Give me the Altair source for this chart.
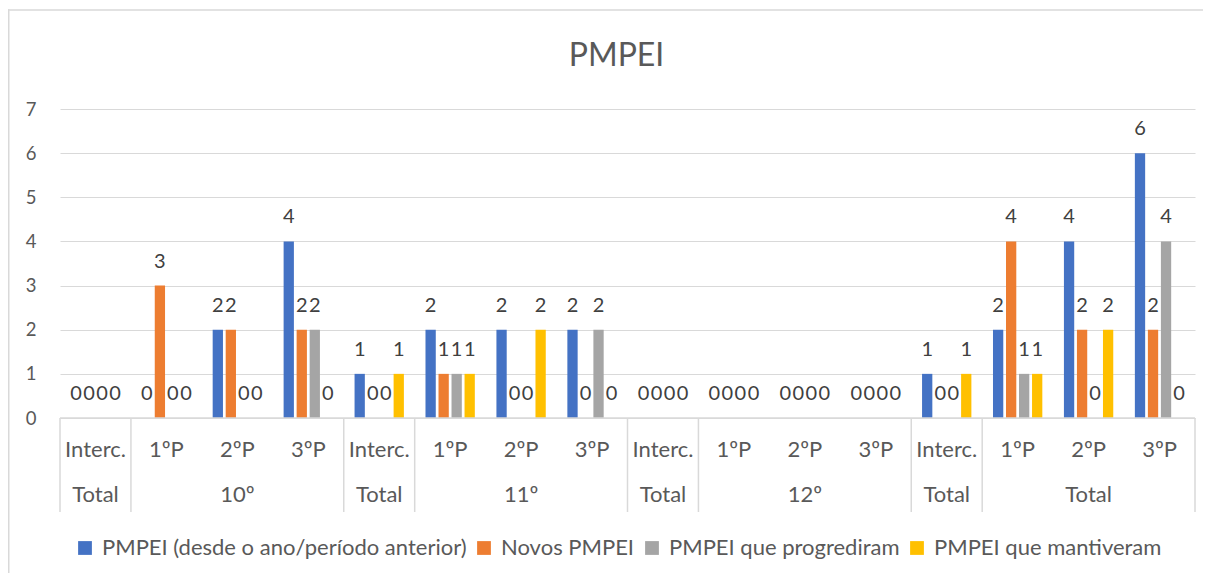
import altair as alt
import pandas as pd

# ---------------- data ----------------
title_text = "PMPEI"
group_labels = ["Total", "10º", "Total", "11º", "Total", "12º", "Total", "Total"]
group_periods = [
    ["Interc."], ["1ºP", "2ºP", "3ºP"],
    ["Interc."], ["1ºP", "2ºP", "3ºP"],
    ["Interc."], ["1ºP", "2ºP", "3ºP"],
    ["Interc."], ["1ºP", "2ºP", "3ºP"],
]
series_names = [
    "PMPEI (desde o ano/período anterior)",
    "Novos PMPEI",
    "PMPEI que progrediram",
    "PMPEI que mantiveram",
]
series_colors = ["#4472C4", "#ED7D31", "#A5A5A5", "#FFC000"]
vals_anterior = [0, 0, 2, 4, 1, 2, 2, 2, 0, 0, 0, 0, 1, 2, 4, 6]
vals_novos = [0, 3, 2, 2, 0, 1, 0, 0, 0, 0, 0, 0, 0, 4, 2, 2]
vals_progrediram = [0, 0, 0, 2, 0, 1, 0, 2, 0, 0, 0, 0, 0, 1, 0, 4]
vals_mantiveram = [0, 0, 0, 0, 1, 1, 2, 0, 0, 0, 0, 0, 1, 1, 2, 0]
y_ticks = [0, 1, 2, 3, 4, 5, 6, 7]

# ---------------- tables ----------------
keys, periods, group_mid, group_first = [], [], [], []
for gi, (glab, plist) in enumerate(zip(group_labels, group_periods)):
    gkeys = [f"g{gi}-{p}" for p in plist]
    keys += gkeys
    periods += plist
    group_mid.append({"key": gkeys[len(gkeys) // 2], "label": glab})
    group_first.append({"key": gkeys[0]})

cat_df = pd.DataFrame({"key": keys, "period": periods})
grp_df = pd.DataFrame(group_mid)
bnd_df = pd.DataFrame(group_first)
last_df = pd.DataFrame({"key": [keys[-1]]})

all_vals = [vals_anterior, vals_novos, vals_progrediram, vals_mantiveram]
rows = []
for s, vals in zip(series_names, all_vals):
    for k, v in zip(keys, vals):
        rows.append({"key": k, "series": s, "value": v})
df = pd.DataFrame(rows)

one = pd.DataFrame({"t": [title_text]})
edge_top = pd.DataFrame({"edge": ["top"]})
edge_left = pd.DataFrame({"edge": ["left"]})

W, H = 1135, 309
FONT = "Lato"
GRID = "#d9d9d9"
TXT = "#595959"

xscale = alt.Scale(domain=keys, paddingInner=0, paddingOuter=0)
xenc = alt.X("key:N", sort=keys, scale=xscale, axis=None)
xoff = alt.XOffset("series:N", sort=series_names,
                   scale=alt.Scale(domain=series_names, paddingInner=0.21, paddingOuter=0.83))
yenc = alt.Y("value:Q", scale=alt.Scale(domain=[0, 7], nice=False),
             axis=alt.Axis(values=y_ticks, title=None, grid=True, gridColor=GRID,
                           domain=False, ticks=False, labelPadding=24,
                           labelFontSize=18.5, labelColor=TXT, labelFont=FONT))

bars = alt.Chart(df).mark_bar().encode(
    x=xenc, xOffset=xoff, y=yenc,
    color=alt.Color("series:N", sort=series_names,
                    scale=alt.Scale(domain=series_names, range=series_colors),
                    legend=alt.Legend(title=None, orient="none", legendX=14, legendY=428,
                                      direction="horizontal", columns=4,
                                      symbolType="square", symbolSize=190,
                                      symbolStrokeWidth=0, labelFontSize=22,
                                      labelFont=FONT, labelColor=TXT, labelLimit=1000,
                                      columnPadding=6, labelOffset=6, padding=0)),
)

labels = alt.Chart(df).mark_text(dy=-18, baseline="alphabetic", fontSize=20,
                                 font=FONT, color="#404040").encode(
    x=xenc, xOffset=xoff, y=alt.Y("value:Q"), text=alt.Text("value:Q"),
)

row1 = alt.Chart(cat_df).mark_text(baseline="alphabetic", fontSize=22, font=FONT,
                                   color=TXT).encode(
    x=xenc, y=alt.value(H + 39), text="period:N")

row2 = alt.Chart(grp_df).mark_text(baseline="alphabetic", fontSize=22, font=FONT,
                                   color=TXT).encode(
    x=xenc, y=alt.value(H + 84), text="label:N")

seps = alt.Chart(bnd_df).mark_rule(color=GRID, strokeWidth=1.5).encode(
    x=alt.X("key:N", sort=keys, scale=xscale, axis=None, bandPosition=0),
    y=alt.value(H), y2=alt.value(H + 94))

sep_last = alt.Chart(last_df).mark_rule(color=GRID, strokeWidth=1.5).encode(
    x=alt.X("key:N", sort=keys, scale=xscale, axis=None, bandPosition=1),
    y=alt.value(H), y2=alt.value(H + 94))

base_line = alt.Chart(one).mark_rule(color=GRID, strokeWidth=1.5).encode(
    x=alt.value(0), x2=alt.value(W), y=alt.value(H))

title = alt.Chart(one).mark_text(fontSize=32, font=FONT, color=TXT, align="center",
                                 baseline="alphabetic").encode(
    x=alt.value(W / 2 - 11), y=alt.value(-43), text="t:N")

# chart frame: thin filled strips for the top and left edges
border_top = alt.Chart(edge_top).mark_rect(fill=GRID, strokeWidth=0).encode(
    x=alt.value(-52), x2=alt.value(W + 8), y=alt.value(-99.75), y2=alt.value(-98.25))
border_left = alt.Chart(edge_left).mark_rect(fill=GRID, strokeWidth=0).encode(
    x=alt.value(-52), x2=alt.value(-50.5), y=alt.value(-99.75), y2=alt.value(H + 155))

chart = alt.layer(
    border_top, border_left, bars, labels, base_line, seps, sep_last, row1, row2, title
).properties(
    width=W, height=H,
    autosize=alt.AutoSizeParams(type="none"),
    padding={"left": 52, "top": 101, "right": 8, "bottom": 155},
).configure_view(strokeWidth=0)

chart.save("out.html", embed_options={"renderer": "svg", "actions": False})
